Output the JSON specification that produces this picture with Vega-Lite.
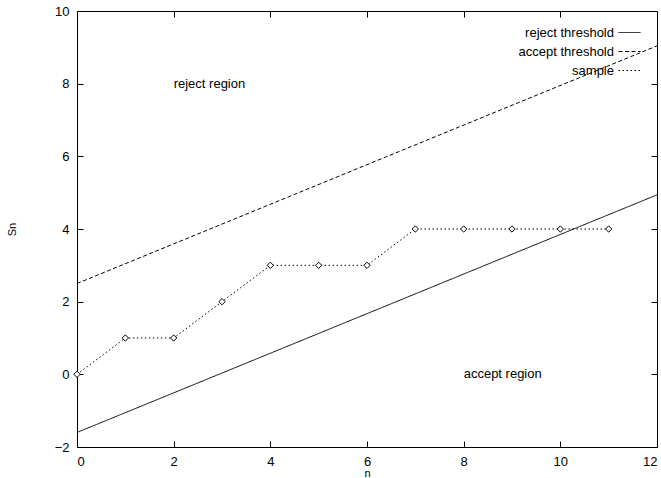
{
  "$schema": "https://vega.github.io/schema/vega-lite/v6.json",
  "width": 580,
  "height": 436,
  "autosize": {"type": "none"},
  "padding": {"left": 77, "top": 11, "right": 4, "bottom": 31},
  "background": "white",
  "config": {
    "view": {"stroke": "black", "strokeWidth": 1},
    "font": "Liberation Sans",
    "axis": {
      "grid": false,
      "domain": false,
      "tickColor": "black",
      "tickSize": 6,
      "tickWidth": 1,
      "offset": -6,
      "labelFont": "Liberation Sans",
      "labelFontSize": 13,
      "labelColor": "black",
      "titleFont": "Liberation Sans",
      "titleFontSize": 11,
      "titleFontWeight": "normal",
      "titleColor": "black",
      "labelPadding": 8
    }
  },
  "datasets": {
    "lines": [
      {"series": "reject threshold", "n": 0, "value": -1.6},
      {"series": "reject threshold", "n": 12, "value": 4.94},
      {"series": "accept threshold", "n": 0, "value": 2.5},
      {"series": "accept threshold", "n": 12, "value": 9.04},
      {"series": "sample", "n": 0, "value": 0},
      {"series": "sample", "n": 1, "value": 1},
      {"series": "sample", "n": 2, "value": 1},
      {"series": "sample", "n": 3, "value": 2},
      {"series": "sample", "n": 4, "value": 3},
      {"series": "sample", "n": 5, "value": 3},
      {"series": "sample", "n": 6, "value": 3},
      {"series": "sample", "n": 7, "value": 4},
      {"series": "sample", "n": 8, "value": 4},
      {"series": "sample", "n": 9, "value": 4},
      {"series": "sample", "n": 10, "value": 4},
      {"series": "sample", "n": 11, "value": 4}
    ],
    "labels": [
      {"n": 2, "value": 8, "label": "reject region"},
      {"n": 8, "value": 0, "label": "accept region"}
    ]
  },
  "layer": [
    {
      "data": {"name": "lines"},
      "mark": {"type": "line", "color": "black", "strokeWidth": 1},
      "encoding": {
        "x": {
          "field": "n", "type": "quantitative",
          "scale": {"domain": [0, 12], "nice": false, "zero": false},
          "axis": {"orient": "bottom", "values": [0, 2, 4, 6, 8, 10, 12], "title": "n", "titleY": 35, "titleBaseline": "alphabetic"}
        },
        "y": {
          "field": "value", "type": "quantitative",
          "scale": {"domain": [-2, 10], "nice": false, "zero": false},
          "axis": {"orient": "left", "values": [-2, 0, 2, 4, 6, 8, 10], "title": "Sn", "titleAngle": -90, "titleX": -71, "titleY": 218, "titleBaseline": "middle", "titleAlign": "center"}
        },
        "strokeDash": {
          "field": "series", "type": "nominal",
          "scale": {"domain": ["reject threshold", "accept threshold", "sample"], "range": [[1, 0], [4, 2.5], [1.5, 2.5]]},
          "legend": {
            "title": null,
            "orient": "none",
            "legendX": 541,
            "legendY": 10,
            "symbolType": "stroke",
            "symbolSize": 484,
            "symbolStrokeWidth": 1,
            "symbolStrokeColor": "black",
            "labelAlign": "right",
            "labelOffset": -27,
            "labelFont": "Liberation Sans",
            "labelFontSize": 13,
            "labelColor": "black",
            "rowPadding": 0,
            "padding": 0
          }
        }
      }
    },
    {
      "data": {"name": "lines"},
      "transform": [{"filter": "datum.series === 'sample'"}],
      "mark": {"type": "point", "shape": "diamond", "size": 40, "filled": true, "fill": "white", "stroke": "black", "strokeWidth": 1, "opacity": 1},
      "encoding": {
        "x": {"field": "n", "type": "quantitative", "axis": {"orient": "top", "values": [0, 2, 4, 6, 8, 10, 12], "labels": false, "title": null}},
        "y": {"field": "value", "type": "quantitative", "axis": {"orient": "right", "values": [-2, 0, 2, 4, 6, 8, 10], "labels": false, "title": null}}
      }
    },
    {
      "data": {"name": "labels"},
      "mark": {"type": "text", "align": "left", "baseline": "middle", "font": "Liberation Sans", "fontSize": 13, "color": "black"},
      "encoding": {
        "x": {"field": "n", "type": "quantitative", "axis": null},
        "y": {"field": "value", "type": "quantitative", "axis": null},
        "text": {"field": "label"}
      }
    }
  ],
  "resolve": {"axis": {"x": "independent", "y": "independent"}}
}
